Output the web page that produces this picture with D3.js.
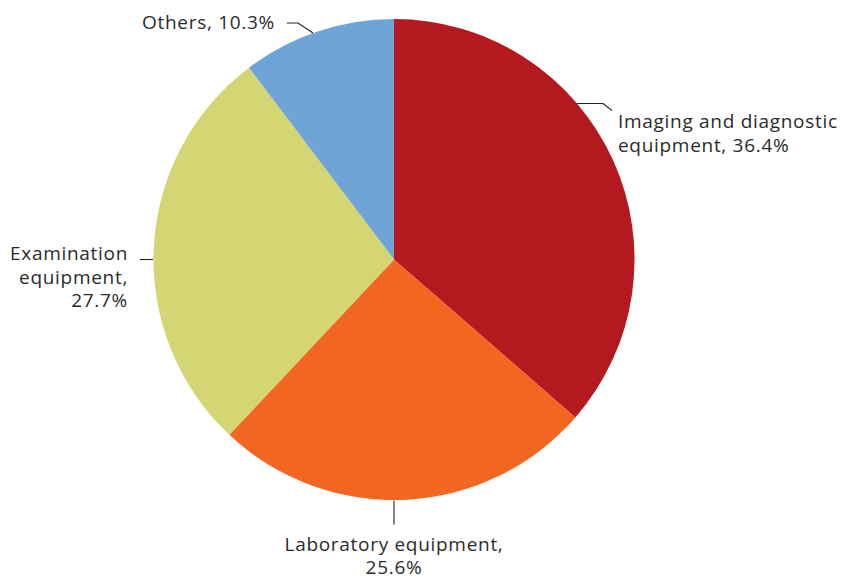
<!DOCTYPE html>
<html>
<head>
<meta charset="utf-8">
<script src="https://cdn.jsdelivr.net/npm/d3@7"></script>
<style>
  html, body { margin: 0; padding: 0; background: #fff; }
  svg { display: block; }
  text { font-family: "Open Sans", "Noto Sans", sans-serif; font-size: 19px; letter-spacing: 0.7px; fill: #2b2b2b; }
</style>
</head>
<body>
<svg id="chart" width="851" height="579"></svg>
<script>
const categories = ["Imaging and diagnostic equipment", "Laboratory equipment", "Examination equipment", "Others"];
const values = [36.4, 25.6, 27.7, 10.3];
const colors = ["#B3191F", "#F26622", "#D3D672", "#6FA5D6"];
const labelLines = [
  ["Imaging and diagnostic", "equipment, 36.4%"],
  ["Laboratory equipment,", "25.6%"],
  ["Examination", "equipment,", "27.7%"],
  ["Others, 10.3%"]
];

const svg = d3.select("#chart");
const cx = 394, cy = 259.5, r = 240.5;
const g = svg.append("g").attr("transform", `translate(${cx},${cy})`);

const data = categories.map((c, i) => ({ cat: c, value: values[i], color: colors[i], lines: labelLines[i] }));
const pie = d3.pie().value(d => d.value).sort(null);
const arc = d3.arc().innerRadius(0).outerRadius(r);
const arcs = pie(data);

g.selectAll("path.slice").data(arcs).enter().append("path")
  .attr("class", "slice")
  .attr("d", arc)
  .attr("fill", d => d.data.color);

// label layout (leader lines + text), relative to center
const layout = [
  { line: [[183, -156], [209, -156], [218, -149]], anchor: "start", x: 224, y: -131.5, dy: 24 },
  { line: [[0, 241], [0, 265]], anchor: "middle", x: 0, y: 291, dy: 23.5 },
  { line: [[-241, 0], [-254, 0]], anchor: "end", x: -266, y: 0.5, dy: 23.5 },
  { line: [[-81, -226.5], [-96, -236.5], [-107, -236.5]], anchor: "end", x: -119, y: -230.5, dy: 23 }
];

const line = d3.line();
arcs.forEach((a, i) => {
  const L = layout[i];
  g.append("path").attr("d", line(L.line)).attr("fill", "none").attr("stroke", "#222").attr("stroke-width", 1.1);
  const t = g.append("text").attr("text-anchor", L.anchor).attr("x", L.x).attr("y", L.y);
  a.data.lines.forEach((s, j) => {
    t.append("tspan").attr("x", L.x).attr("y", L.y + j * L.dy).text(s);
  });
});
</script>
</body>
</html>
